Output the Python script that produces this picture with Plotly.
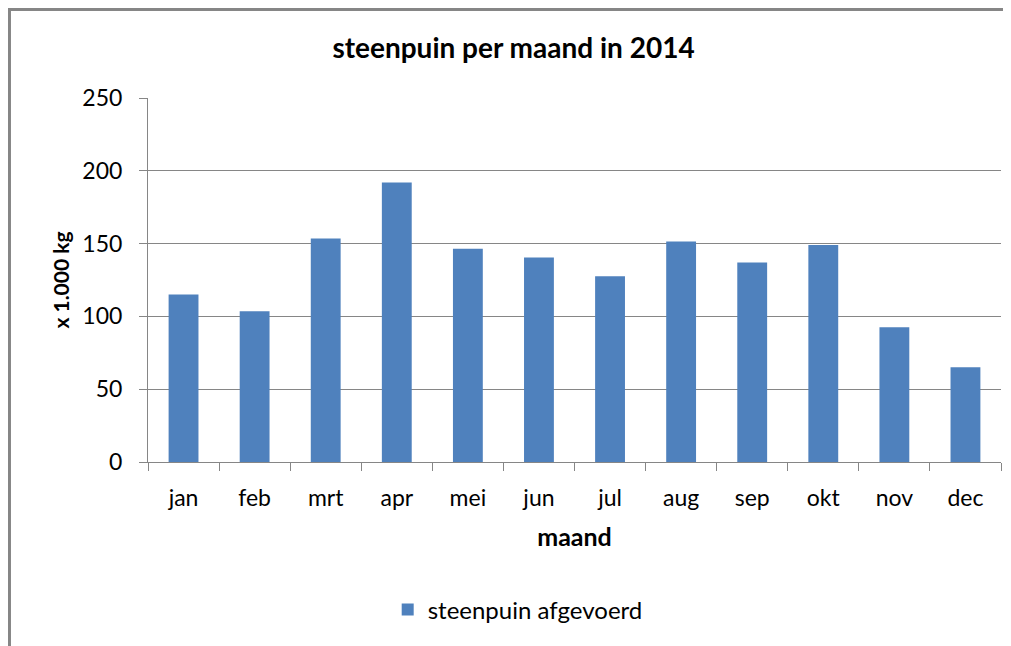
import plotly.graph_objects as go

maanden = ['jan', 'feb', 'mrt', 'apr', 'mei', 'jun', 'jul', 'aug', 'sep', 'okt', 'nov', 'dec']
steenpuin = [115, 103.5, 153.5, 192, 146.5, 140.5, 127.5, 151.5, 137, 149, 92.5, 65]

y_ticks = [0, 50, 100, 150, 200, 250]

GRID = '#868686'
BAR = '#4F81BD'
FONT = 'Lato, Open Sans, sans-serif'

fig = go.Figure()
fig.add_trace(go.Bar(
    x=maanden,
    y=steenpuin,
    name='steenpuin afgevoerd',
    marker=dict(color=BAR, line=dict(width=0)),
    showlegend=True
))

fig.update_layout(
    width=1011,
    height=646,
    margin=dict(l=140, r=18, t=90, b=192),
    paper_bgcolor='white',
    plot_bgcolor='white',
    bargap=0.58,
    font=dict(family=FONT, color='black', size=23),
    title=dict(
        text='<b>steenpuin per maand in 2014</b>',
        x=0.5, xanchor='center',
        y=1 - 40 / 646, yanchor='middle',
        font=dict(size=28)
    ),
    xaxis=dict(
        title=dict(text='<b>maand</b>', font=dict(size=25), standoff=18),
        showline=True, linecolor=GRID, linewidth=1,
        ticks='outside', ticklen=8, tickcolor=GRID, tickson='boundaries',
        showgrid=False,
        ticklabelstandoff=15
    ),
    yaxis=dict(
        title=dict(text='<b>x 1.000 kg</b>', font=dict(size=21), standoff=7),
        range=[0, 250],
        tickvals=y_ticks,
        showline=True, linecolor=GRID, linewidth=1,
        ticks='outside', ticklen=8, tickcolor=GRID,
        showgrid=True, gridcolor=GRID, gridwidth=1,
        zeroline=False,
        ticklabelstandoff=12
    ),
    legend=dict(
        orientation='h',
        x=0.281, xanchor='left',
        y=-0.4066, yanchor='middle',
        font=dict(size=24),
        itemwidth=30
    ),
    shapes=[dict(
        type='rect', xref='paper', yref='paper',
        x0=-0.1624, x1=1.1, y0=-0.6, y1=1.2431,
        line=dict(color=GRID, width=3), layer='below'
    )]
)

fig.write_html("out.html")
